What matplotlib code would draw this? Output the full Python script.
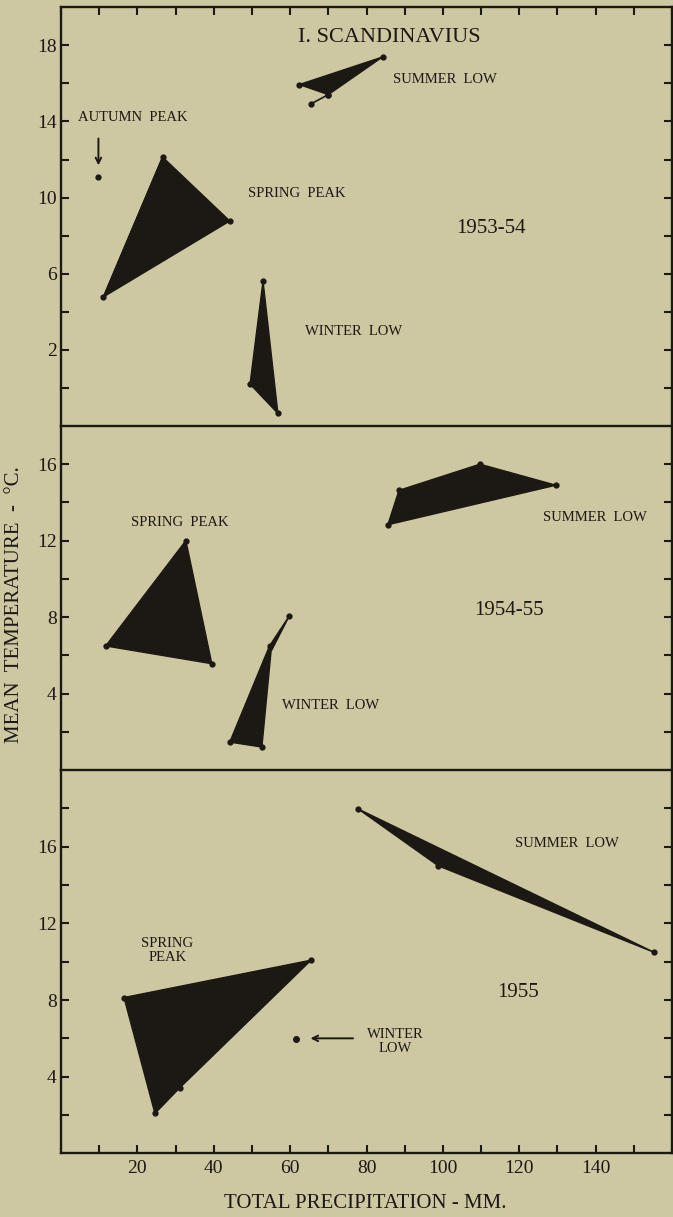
import matplotlib.pyplot as plt
from matplotlib.ticker import MultipleLocator, FixedLocator

plt.rcParams['font.family'] = ['Liberation Serif', 'DejaVu Serif']

BG = '#cec8a2'
INK = '#1c1813'

# 1953-54
p1_summer_x = [62.4, 84.2, 70.0]
p1_summer_y = [15.94, 17.39, 15.41]
p1_summer_tail_x = [70.0, 65.4]
p1_summer_tail_y = [15.41, 14.92]
p1_autumn_x = [9.6]
p1_autumn_y = [11.09]
p1_spring_x = [26.6, 44.2, 11.1, 12.6]
p1_spring_y = [12.13, 8.77, 4.78, 5.19]
p1_winter_x = [52.9, 56.8, 49.5]
p1_winter_y = [5.62, -1.34, 0.2]

# 1954-55
p2_summer_x = [85.6, 88.5, 109.7, 129.6]
p2_summer_y = [12.83, 14.63, 16.0, 14.9]
p2_spring_x = [32.7, 39.5, 11.7]
p2_spring_y = [12.0, 5.56, 6.49]
p2_winter_x = [59.8, 54.6, 44.2, 52.6, 55.0]
p2_winter_y = [8.07, 6.49, 1.46, 1.2, 6.2]

# 1955
p3_summer_x = [77.8, 155.4, 98.8]
p3_summer_y = [17.97, 10.48, 15.0]
p3_spring_x = [16.5, 65.5, 31.1, 24.6]
p3_spring_y = [8.13, 10.08, 3.42, 2.08]
p3_winter_x = [61.5]
p3_winter_y = [5.98]

fig = plt.figure(figsize=(6.73, 12.17), dpi=100, facecolor=BG)

L, W = 61 / 673, 611 / 673
ax1 = fig.add_axes([L, 0.6500, W, 0.9940 - 0.6500])
ax2 = fig.add_axes([L, 0.3673, W, 0.6500 - 0.3673])
ax3 = fig.add_axes([L, 0.0523, W, 0.3673 - 0.0523])

limits = [(-2, 20), (0, 18), (0, 20)]
labels = [[2, 6, 10, 14, 18], [4, 8, 12, 16], [4, 8, 12, 16]]
minors = [range(0, 20, 2), range(2, 18, 2), range(2, 20, 2)]

for ax, lim, lab, mn in zip([ax1, ax2, ax3], limits, labels, minors):
    ax.set_facecolor(BG)
    ax.set_xlim(0, 160)
    ax.set_ylim(*lim)
    for s in ax.spines.values():
        s.set_linewidth(1.7)
        s.set_color(INK)
    ax.yaxis.set_major_locator(FixedLocator(lab))
    ax.yaxis.set_minor_locator(FixedLocator(list(mn)))
    ax.tick_params(axis='y', which='both', direction='in', left=True, right=True,
                   length=6, width=1.5, color=INK, labelsize=14, labelcolor=INK, pad=3)
    ax.xaxis.set_major_locator(MultipleLocator(10))
    ax.tick_params(axis='x', which='both', direction='in', bottom=False, top=False,
                   labelbottom=False, length=6, width=1.5, color=INK)

ax1.tick_params(axis='x', top=True)
ax1.spines['bottom'].set_visible(False)
ax2.spines['bottom'].set_visible(False)
ax3.tick_params(axis='x', bottom=True, labelbottom=True, labelsize=14, labelcolor=INK, pad=5)
ax3.set_xticks(range(10, 160, 10))
ax3.set_xticklabels(['' if v % 20 else str(v) for v in range(10, 160, 10)])


def shape(ax, xs, ys):
    ax.fill(xs, ys, color=INK, lw=1, ec=INK)
    ax.plot(xs, ys, 'o', color=INK, ms=3.5)


def note(ax, x, y, s, size=10.5, **kw):
    ax.text(x, y, s, fontsize=size, color=INK, va='center', **kw)


# panel 1
shape(ax1, p1_summer_x, p1_summer_y)
ax1.plot(p1_summer_tail_x, p1_summer_tail_y, '-o', color=INK, lw=1.2, ms=3.5)
shape(ax1, p1_spring_x[:3], p1_spring_y[:3])
ax1.fill([p1_spring_x[0], p1_spring_x[2], p1_spring_x[3]],
         [p1_spring_y[0], p1_spring_y[2], p1_spring_y[3]], color=INK)
shape(ax1, p1_winter_x, p1_winter_y)
ax1.plot(p1_autumn_x, p1_autumn_y, 'o', color=INK, ms=3.5)
ax1.annotate('', xy=(p1_autumn_x[0] + 0.2, 11.55), xytext=(p1_autumn_x[0] + 0.2, 13.25),
             arrowprops=dict(arrowstyle='->', color=INK, lw=1.4))
ax1.text(85.9, 18.4, 'I. SCANDINAVIUS', fontsize=16, color=INK, ha='center', va='center')
note(ax1, 87.0, 16.2, 'SUMMER  LOW')
note(ax1, 4.5, 14.2, 'AUTUMN  PEAK')
note(ax1, 49.0, 10.2, 'SPRING  PEAK')
note(ax1, 63.9, 2.96, 'WINTER  LOW')
note(ax1, 103.6, 8.4, '1953-54', size=15)

# panel 2
shape(ax2, p2_summer_x, p2_summer_y)
shape(ax2, p2_spring_x, p2_spring_y)
ax2.fill(p2_winter_x, p2_winter_y, color=INK, lw=1, ec=INK)
ax2.plot(p2_winter_x[:4], p2_winter_y[:4], 'o', color=INK, ms=3.5)
note(ax2, 126.2, 13.23, 'SUMMER  LOW')
note(ax2, 18.2, 12.97, 'SPRING  PEAK')
note(ax2, 57.9, 3.37, 'WINTER  LOW')
note(ax2, 108.3, 8.33, '1954-55', size=15)

# panel 3
shape(ax3, p3_summer_x, p3_summer_y)
shape(ax3, p3_spring_x, p3_spring_y)
ax3.plot(p3_winter_x, p3_winter_y, 'o', color=INK, ms=4)
ax3.annotate('', xy=(64.6, 6.0), xytext=(77.2, 6.0),
             arrowprops=dict(arrowstyle='->', color=INK, lw=1.4))
note(ax3, 119.0, 16.14, 'SUMMER  LOW')
note(ax3, 27.9, 10.6, 'SPRING\nPEAK', ha='center', multialignment='center', linespacing=1.1)
note(ax3, 87.6, 5.83, 'WINTER\nLOW', ha='center', multialignment='center', linespacing=1.1)
note(ax3, 114.1, 8.39, '1955', size=15)

fig.text(0.542, 0.011, 'TOTAL PRECIPITATION - MM.', fontsize=15, color=INK,
         ha='center', va='center')
fig.text(0.022, 0.503, 'MEAN  TEMPERATURE  -  \u00b0C.', fontsize=15, color=INK,
         ha='center', va='center', rotation=90)

fig.savefig('out.png', dpi=100, facecolor=BG)
